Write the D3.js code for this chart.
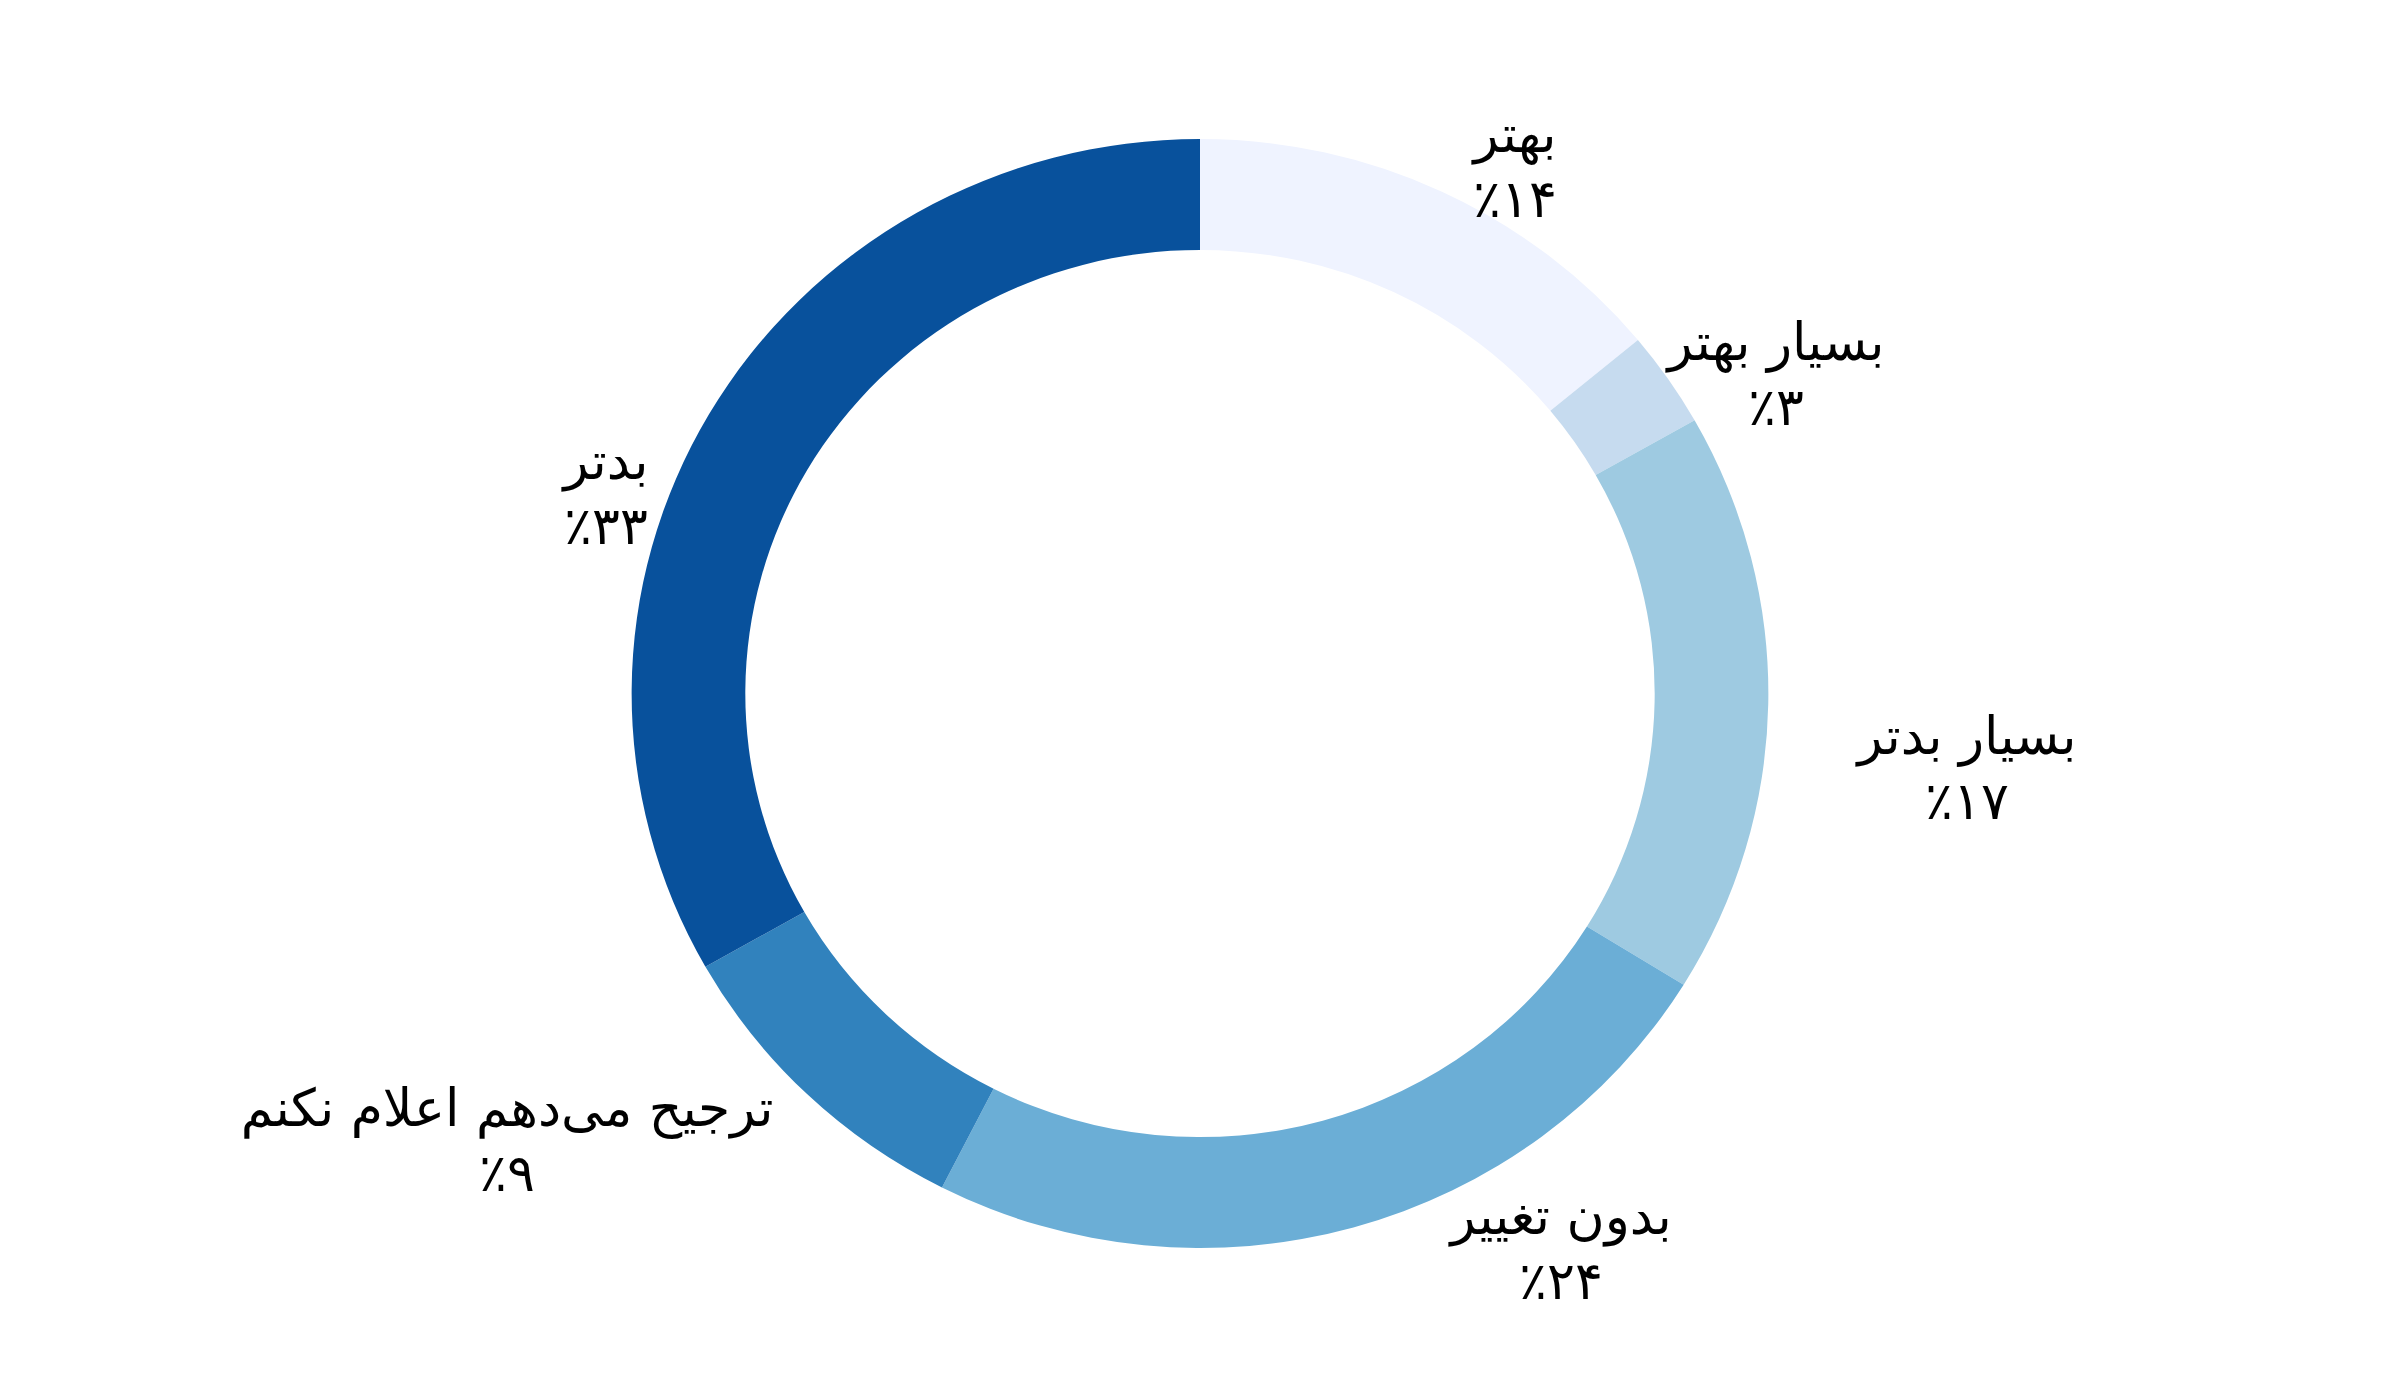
<!DOCTYPE html>
<html><head><meta charset="utf-8">
<script src="https://cdn.jsdelivr.net/npm/d3@7"></script>
<style>
html,body{margin:0;padding:0;background:#fff;}
svg{display:block;}
text{font-family:"DejaVu Sans",sans-serif;fill:#000;}
</style></head>
<body>
<svg id="chart" width="2400" height="1389"></svg>
<script>
// ---- data ----
const categories = ["بهتر","بسیار بهتر","بسیار بدتر","بدون تغییر","ترجیح می‌دهم اعلام نکنم","بدتر"];
const values = [14.0, 2.8, 17.0, 23.7, 9.3, 33.2];
const valueLabels = ["٪۱۴","٪۳","٪۱۷","٪۲۴","٪۹","٪۳۳"];

// ---- layout (not data) ----
const W = 2400, H = 1389;
const cx = 1200, cy = 693.5;
const R = 554.5, innerFrac = 0.8, xStretch = 1.025;
const labelOffsets = [[315,-542],[576,-334],[767,60],[361,540],[-693,432],[-594,-215]];
const lineGap = 65, fontSize = 52;

const color = d3.scaleOrdinal().domain(categories).range(d3.schemeBlues[6]);
const svg = d3.select("#chart");
svg.append("rect").attr("width",W).attr("height",H).attr("fill","#fff");

const pie = d3.pie().sort(null).value(d => d.v);
const data = categories.map((c,i)=>({c, v: values[i], lab: valueLabels[i], i}));
const arcs = pie(data);
const arc = d3.arc().innerRadius(R*innerFrac).outerRadius(R);

const g = svg.append("g").attr("transform",`translate(${cx},${cy}) scale(${xStretch},1)`);
g.selectAll("path").data(arcs).join("path")
  .attr("d", arc)
  .attr("fill", d => color(d.data.c));

const lg = svg.append("g").attr("transform",`translate(${cx},${cy})`);
const labels = lg.selectAll("text").data(arcs).join("text")
  .attr("text-anchor","middle")
  .attr("direction","rtl")
  .style("font-size", fontSize+"px")
  .attr("transform", d => `translate(${labelOffsets[d.data.i][0]},${labelOffsets[d.data.i][1]})`);
labels.append("tspan").attr("x",0).attr("y",0).text(d => d.data.c);
labels.append("tspan").attr("x",0).attr("y",lineGap).text(d => d.data.lab);
</script>
</body></html>
